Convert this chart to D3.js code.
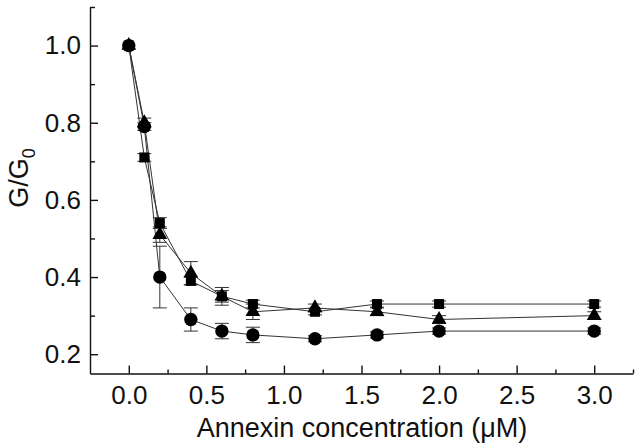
<!DOCTYPE html>
<html>
<head>
<meta charset="utf-8">
<script src="https://cdn.jsdelivr.net/npm/d3@7"></script>
<style>
  body { margin: 0; background: #fff; }
  svg { display: block; }
  text { font-family: "Liberation Sans", Arial, sans-serif; fill: #111; }
</style>
</head>
<body>
<svg id="chart" width="640" height="447"></svg>
<script>
// Annexin concentration (µM)
const concentrations = [0, 0.1, 0.2, 0.4, 0.6, 0.8, 1.2, 1.6, 2.0, 3.0];
// Series values (G/G0)
const squareValues   = [1.00, 0.71, 0.54, 0.39, 0.35, 0.33, 0.31, 0.33, 0.33, 0.33];
const squareErrors   = [0, 0.01, 0.014, 0.01, 0.023, 0.01, 0.008, 0.008, 0.008, 0.008];
const triangleValues = [1.00, 0.80, 0.51, 0.41, 0.35, 0.31, 0.32, 0.31, 0.29, 0.30];
const triangleErrors = [0, 0.012, 0.02, 0.03, 0.015, 0.02, 0.01, 0.01, 0.01, 0.01];
const circleValues   = [1.00, 0.79, 0.40, 0.29, 0.26, 0.25, 0.24, 0.25, 0.26, 0.26];
const circleErrors   = [0, 0.01, 0.08, 0.03, 0.02, 0.02, 0.008, 0.008, 0.008, 0.008];
// Tick labels
const xTickValues = [0, 0.5, 1.0, 1.5, 2.0, 2.5, 3.0];
const xMinorTicks = [0.25, 0.75, 1.25, 1.75, 2.25, 2.75, 3.25];
const yTickValues = [0.2, 0.4, 0.6, 0.8, 1.0];
const yMinorTicks = [0.3, 0.5, 0.7, 0.9, 1.1];
const xTitle = "Annexin concentration (\u03BCM)";

const svg = d3.select("#chart");
const plotLeft = 90, plotRight = 633, plotTop = 7, plotBottom = 373.5;

const x = d3.scaleLinear().domain([-0.25, 3.25]).range([plotLeft, plotRight]);
const y = d3.scaleLinear().domain([0.15, 1.1]).range([plotBottom, plotTop]);

// X axis
svg.append("g").attr("transform", `translate(0,${plotBottom})`)
  .call(d3.axisBottom(x).tickValues(xTickValues).tickSizeInner(-8).tickSizeOuter(0)
    .tickPadding(12).tickFormat(d3.format(".1f")));
svg.append("g").attr("transform", `translate(0,${plotBottom})`)
  .call(d3.axisBottom(x).tickValues(xMinorTicks).tickSizeInner(-4).tickSizeOuter(0).tickFormat(""))
  .select(".domain").remove();

// Y axis
svg.append("g").attr("transform", `translate(${plotLeft},0)`)
  .call(d3.axisLeft(y).tickValues(yTickValues).tickSizeInner(-8).tickSizeOuter(0)
    .tickPadding(9).tickFormat(d3.format(".1f")));
svg.append("g").attr("transform", `translate(${plotLeft},0)`)
  .call(d3.axisLeft(y).tickValues(yMinorTicks).tickSizeInner(-5).tickSizeOuter(0).tickFormat(""))
  .select(".domain").remove();

svg.selectAll(".domain, .tick line").attr("stroke", "#111").attr("stroke-width", 1.4);
svg.selectAll(".tick text").attr("font-size", 26).attr("font-family", "Liberation Sans, Arial, sans-serif").attr("fill", "#111");

// Axis titles
svg.append("text").attr("x", 362).attr("y", 437).attr("text-anchor", "middle")
  .attr("font-size", 27).text(xTitle);
const yt = svg.append("text").attr("transform", "translate(28,178) rotate(-90)")
  .attr("text-anchor", "middle").attr("font-size", 27);
yt.append("tspan").text("G/G");
yt.append("tspan").attr("font-size", 18).attr("dy", 7).text("0");

// Series
const series = [
  { vals: squareValues, errs: squareErrors, shape: "square" },
  { vals: triangleValues, errs: triangleErrors, shape: "triangle" },
  { vals: circleValues, errs: circleErrors, shape: "circle" }
];

const line = d3.line().x(d => x(d.c)).y(d => y(d.v));
const symbolSize = { square: 100, triangle: 95, circle: 140 };
const symbolType = { square: d3.symbolSquare, triangle: d3.symbolTriangle, circle: d3.symbolCircle };

series.forEach(s => {
  const pts = concentrations.map((c, i) => ({ c, v: s.vals[i], e: s.errs[i] }));
  svg.append("path").datum(pts).attr("d", line)
    .attr("fill", "none").attr("stroke", "#333").attr("stroke-width", 1);
  const eb = svg.append("g");
  pts.filter(p => p.e > 0).forEach(p => {
    const cx = x(p.c), y0 = y(p.v - p.e), y1 = y(p.v + p.e);
    eb.append("line").attr("x1", cx).attr("x2", cx).attr("y1", y0).attr("y2", y1)
      .attr("stroke", "#333").attr("stroke-width", 1);
    [y0, y1].forEach(yy => eb.append("line").attr("x1", cx - 7).attr("x2", cx + 7)
      .attr("y1", yy).attr("y2", yy).attr("stroke", "#333").attr("stroke-width", 1));
  });
});

series.forEach(s => {
  const pts = concentrations.map((c, i) => ({ c, v: s.vals[i] }));
  svg.append("g").selectAll("path").data(pts).join("path")
    .attr("transform", d => `translate(${x(d.c)},${y(d.v)})`)
    .attr("d", d3.symbol().type(symbolType[s.shape]).size(symbolSize[s.shape]))
    .attr("fill", "#000");
});
</script>
</body>
</html>
